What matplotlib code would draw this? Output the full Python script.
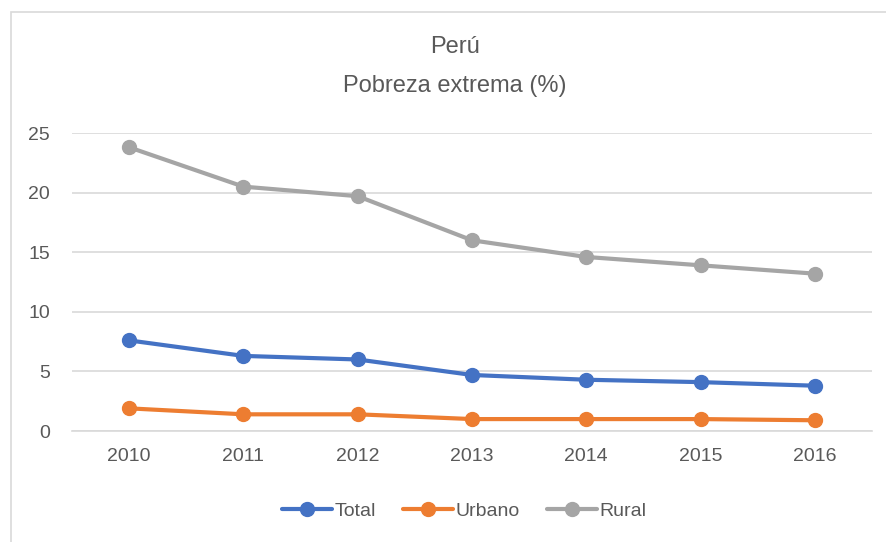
import matplotlib.pyplot as plt
from matplotlib.patches import Rectangle

years = ['2010', '2011', '2012', '2013', '2014', '2015', '2016']
total = [7.6, 6.3, 6.0, 4.7, 4.3, 4.1, 3.8]
urbano = [1.9, 1.4, 1.4, 1.0, 1.0, 1.0, 0.9]
rural = [23.8, 20.5, 19.7, 16.0, 14.6, 13.9, 13.2]

plt.rcParams['font.family'] = ['Liberation Sans', 'DejaVu Sans']
txt = '#595959'

fig = plt.figure(figsize=(8.87, 5.42), dpi=100)
ax = fig.add_axes([72 / 887, 1 - 431 / 542, 800 / 887, 298 / 542])

# outer chart border (left/top visible in the reference)
fig.patches.append(Rectangle((11 / 887, -0.1), 1.2, 1 - 12 / 542 + 0.1,
                             transform=fig.transFigure, fill=False,
                             edgecolor='#d9d9d9', linewidth=1.2))

x = range(len(years))
ax.plot(x, total, color='#4472c4', lw=3, marker='o', ms=10, label='Total', solid_capstyle='round')
ax.plot(x, urbano, color='#ed7d31', lw=3, marker='o', ms=10, label='Urbano', solid_capstyle='round')
ax.plot(x, rural, color='#a5a5a5', lw=3, marker='o', ms=10, label='Rural', solid_capstyle='round')

ax.set_xlim(-0.5, 6.5)
ax.set_ylim(0, 25)
ax.set_yticks([0, 5, 10, 15, 20, 25])
ax.set_xticks(list(x))
ax.set_xticklabels(years)
ax.grid(axis='y', color='#d9d9d9', lw=1.2)
ax.set_axisbelow(True)
for s in ['top', 'right', 'left']:
    ax.spines[s].set_visible(False)
ax.spines['bottom'].set_color('#d9d9d9')
ax.spines['bottom'].set_linewidth(1.2)
ax.tick_params(length=0, labelsize=14, colors=txt)
ax.tick_params(axis='y', pad=16)
ax.tick_params(axis='x', pad=12)

fig.text(455 / 887, 1 - 47 / 542, 'Perú', ha='center', va='center', fontsize=17, color=txt)
fig.text(455 / 887, 1 - 86 / 542, 'Pobreza extrema (%)', ha='center', va='center', fontsize=17, color=txt)

fig.legend(loc='center', bbox_to_anchor=(464 / 887, 1 - 511 / 542), ncol=3, frameon=False,
           fontsize=14, labelcolor=txt, handlelength=2.6, handletextpad=0.1, columnspacing=1.4)

fig.savefig('out.png', dpi=100)
